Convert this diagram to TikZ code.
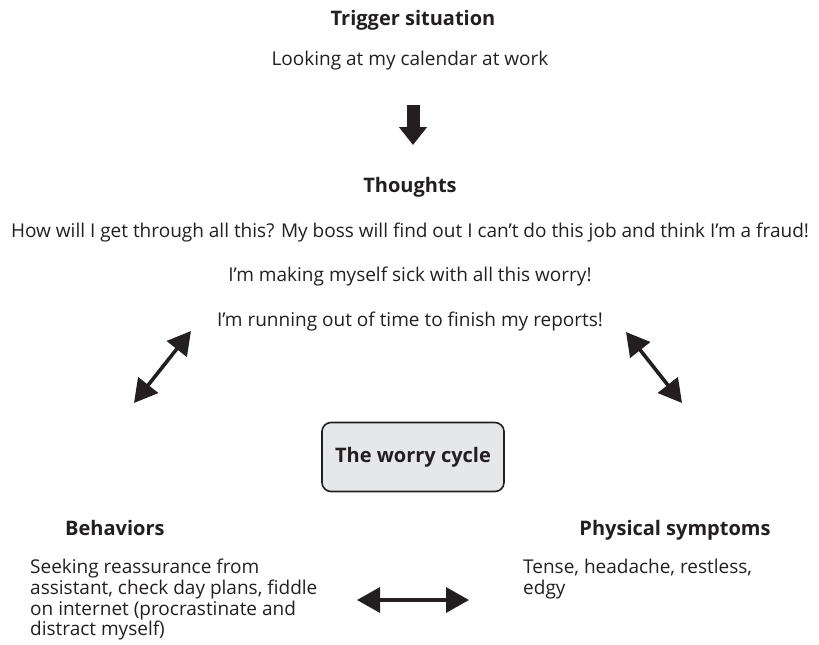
\documentclass[tikz,border=0pt]{standalone}
\usepackage{fontspec}
\setmainfont{Open Sans}
\usepackage{xcolor}
\usetikzlibrary{positioning,arrows.meta}

\definecolor{ink}{HTML}{231F20}
\definecolor{boxgrey}{HTML}{E6E7E8}

\begin{document}
\begin{tikzpicture}[
  x=1pt, y=-1pt,
  head/.style={font=\fontsize{20}{24}\selectfont\bfseries, text=ink, inner sep=0pt, anchor=base},
  txt/.style={font=\fontsize{19}{20.7}\selectfont, text=ink, inner sep=0pt, anchor=base},
  para/.style={txt, align=left, anchor=north west},
  cyclebox/.style={draw=ink, fill=boxgrey, line width=1.6pt, rounded corners=9pt,
    minimum width=182pt, minimum height=69pt, font=\fontsize{20}{24}\selectfont\bfseries, text=ink},
  twoway/.style={{Triangle[width=25pt,length=23pt]}-{Triangle[width=25pt,length=23pt]}, line width=3.6pt, draw=ink},
  fatdown/.style={-{Triangle[width=27pt,length=18pt]}, line width=13pt, draw=ink}
]
\useasboundingbox (0,0) rectangle (819,645);

\node[head] (trigger) at (413,25) {Trigger situation};
\node[txt] (calendar) at (410,65) {Looking at my calendar at work};

\node[head] (thoughts) at (410,192) {Thoughts};
\node[txt] (fraud) at (410,237) {How will I get through all this? My boss will find out I can’t do this job and think I’m a fraud!};
\node[txt] (sick) at (410,281) {I’m making myself sick with all this worry!};
\node[txt] (time) at (410,326) {I’m running out of time to finish my reports!};

\node[cyclebox] (cycle) at (413,457) {The worry cycle};

\node[head, anchor=base west] (behav) at (65,535) {Behaviors};
\node[para] (behavtxt) at (30,559) {Seeking reassurance from\\assistant, check day plans, fiddle\\on internet (procrastinate and\\distract myself)};

\node[head] (phys) at (675,535) {Physical symptoms};
\node[para] (phystxt) at (523,559) {Tense, headache, restless,\\edgy};

\coordinate (downtop) at (413,105);
\coordinate (downtip) at (413,145);
\coordinate (leftlow) at (134,403);
\coordinate (lefthigh) at (191,331);
\coordinate (righthigh) at (626,332);
\coordinate (rightlow) at (682,403);
\coordinate (midleft) at (357,600);
\coordinate (midright) at (469,600);

\draw[fatdown] (downtop) -- (downtip);
\draw[twoway] (leftlow) -- (lefthigh);
\draw[twoway] (righthigh) -- (rightlow);
\draw[twoway] (midleft) -- (midright);
\end{tikzpicture}
\end{document}
